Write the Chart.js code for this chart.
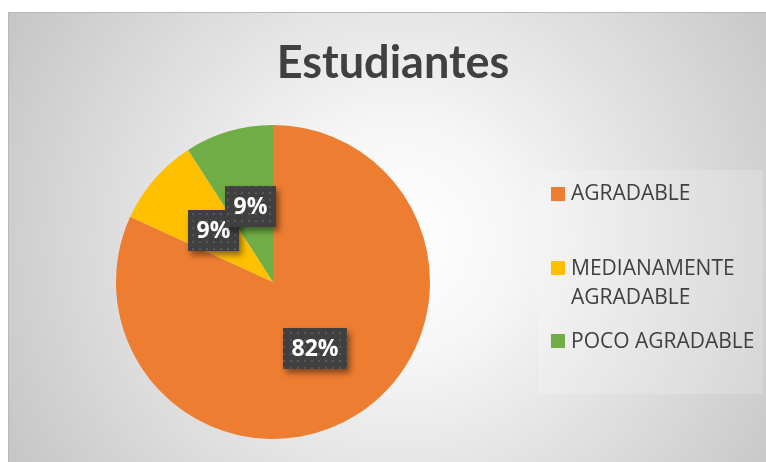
<!DOCTYPE html>
<html>
<head>
<meta charset="utf-8">
<script src="https://cdn.jsdelivr.net/npm/chart.js@4.4.1/dist/chart.umd.min.js"></script>
<style>
html,body{margin:0;padding:0;background:#fff;}
canvas{display:block;}
</style>
</head>
<body>
<canvas id="c" width="766" height="462"></canvas>
<script>
const chartTitle = "Estudiantes";
const categories = ["AGRADABLE", "MEDIANAMENTE AGRADABLE", "POCO AGRADABLE"];
const values = [18, 2, 2];
const colors = ["#ED7D31", "#FFC000", "#70AD47"];

const total = values.reduce((a, b) => a + b, 0);
const percentLabels = values.map(v => Math.round(v / total * 100) + "%");

// dotted pattern for label boxes
function makePattern(ctx) {
  const p = document.createElement("canvas");
  p.width = 7; p.height = 7;
  const pc = p.getContext("2d");
  pc.fillStyle = "#404040";
  pc.fillRect(0, 0, 7, 7);
  pc.fillStyle = "#575757";
  pc.fillRect(3, 3, 2, 2);
  return ctx.createPattern(p, "repeat");
}

const bgPlugin = {
  id: "bg",
  beforeDraw(chart) {
    const ctx = chart.ctx;
    const W = chart.width, H = chart.height;
    ctx.save();
    ctx.fillStyle = "#ffffff";
    ctx.fillRect(0, 0, W, H);
    const g = ctx.createRadialGradient(400, 240, 0, 400, 240, 460);
    g.addColorStop(0, "#ffffff");
    g.addColorStop(0.25, "#f6f6f6");
    g.addColorStop(1, "#c4c4c4");
    ctx.fillStyle = g;
    ctx.fillRect(8, 12, W - 8, H - 12);
    ctx.strokeStyle = "#b8b8b8";
    ctx.lineWidth = 1;
    ctx.beginPath();
    ctx.moveTo(8.5, H);
    ctx.lineTo(8.5, 12.5);
    ctx.lineTo(W, 12.5);
    ctx.stroke();
    // legend panel
    ctx.fillStyle = "rgba(255,255,255,0.18)";
    ctx.fillRect(538, 170, 225, 224);
    // title
    ctx.fillStyle = "#404040";
    ctx.font = "bold 45px Lato";
    ctx.textAlign = "center";
    ctx.textBaseline = "middle";
    ctx.fillText(chartTitle, 393, 63);
    ctx.restore();
  }
};

const labelPlugin = {
  id: "boxLabels",
  afterDatasetsDraw(chart) {
    const ctx = chart.ctx;
    const meta = chart.getDatasetMeta(0);
    const pattern = makePattern(ctx);
    ctx.save();
    ctx.font = "bold 23px 'Open Sans'";
    ctx.textAlign = "center";
    ctx.textBaseline = "middle";
    meta.data.forEach((el, i) => {
      const pos = el.tooltipPosition();
      const text = percentLabels[i];
      const tw = ctx.measureText(text).width;
      const w = Math.round(tw + 17), h = 41;
      const x = Math.round(pos.x - w / 2), y = Math.round(pos.y - h / 2);
      ctx.save();
      ctx.shadowColor = "rgba(0,0,0,0.45)";
      ctx.shadowBlur = 6;
      ctx.shadowOffsetX = 3;
      ctx.shadowOffsetY = 4;
      ctx.fillStyle = "#404040";
      ctx.fillRect(x, y, w, h);
      ctx.restore();
      ctx.fillStyle = pattern;
      ctx.fillRect(x, y, w, h);
      ctx.fillStyle = "#ffffff";
      ctx.fillText(text, x + w / 2, y + h / 2 + 1);
    });
    ctx.restore();
  }
};

const legendPlugin = {
  id: "sideLegend",
  afterDraw(chart) {
    const ctx = chart.ctx;
    const ds = chart.data.datasets[0];
    const rows = [193.5, 268, 341];
    const lineH = 29;
    const maxW = 190;
    ctx.save();
    ctx.font = "21px 'Open Sans'";
    ctx.textAlign = "left";
    ctx.textBaseline = "middle";
    chart.data.labels.forEach((lab, i) => {
      const words = lab.split(" ");
      const lines = [];
      let cur = "";
      words.forEach(w => {
        const test = cur ? cur + " " + w : w;
        if (ctx.measureText(test).width > maxW && cur) { lines.push(cur); cur = w; }
        else cur = test;
      });
      if (cur) lines.push(cur);
      const y0 = rows[i];
      ctx.fillStyle = ds.backgroundColor[i];
      ctx.fillRect(551, Math.round(y0 - 7), 14, 14);
      ctx.fillStyle = "#404040";
      lines.forEach((ln, k) => ctx.fillText(ln, 571, y0 + k * lineH + 1));
    });
    ctx.restore();
  }
};

new Chart(document.getElementById("c"), {
  type: "pie",
  data: {
    labels: categories,
    datasets: [{
      data: values,
      backgroundColor: colors,
      borderWidth: 0
    }]
  },
  options: {
    responsive: false,
    animation: false,
    devicePixelRatio: 1,
    layout: { padding: { left: 116, top: 125, right: 336, bottom: 23 } },
    plugins: {
      legend: { display: false },
      title: { display: false },
      tooltip: { enabled: false }
    }
  },
  plugins: [bgPlugin, labelPlugin, legendPlugin]
});
</script>
</body>
</html>
